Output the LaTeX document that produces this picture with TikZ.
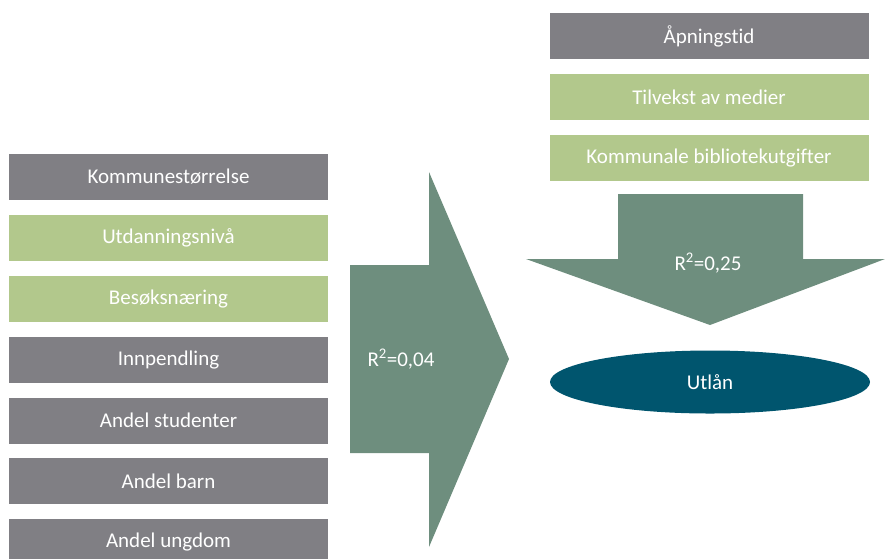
\documentclass[tikz,border=0pt]{standalone}
\usepackage{fontspec}
\setmainfont[Ligatures={NoCommon}]{Carlito}
\usetikzlibrary{shapes.geometric}
\definecolor{boxgray}{RGB}{128,127,132}
\definecolor{boxgreen}{RGB}{178,200,140}
\definecolor{arrowgreen}{RGB}{110,142,126}
\definecolor{ovalblue}{RGB}{0,85,110}
\tikzset{
  fact/.style={minimum width=319pt, minimum height=46pt, inner sep=0pt, text=white, font=\fontsize{21}{24}\selectfont},
  factgray/.style={fact, fill=boxgray},
  factgreen/.style={fact, fill=boxgreen},
  bigarrow/.style={fill=arrowgreen, draw=none},
  lbl/.style={text=white, font=\fontsize{21}{24}\selectfont, inner sep=0pt}
}
\begin{document}
\begin{tikzpicture}[x=1pt,y=-1pt]
\useasboundingbox (0,0) rectangle (885,558);
% left column
\node[factgray]  (k1) at (168.5,177) {Kommunestørrelse};
\node[factgreen] (k2) at (168.5,238) {Utdanningsnivå};
\node[factgreen] (k3) at (168.5,299) {Besøksnæring};
\node[factgray]  (k4) at (168.5,360) {Innpendling};
\node[factgray]  (k5) at (168.5,420.5) {Andel studenter};
\node[factgray]  (k6) at (168.5,481) {Andel barn};
\node[factgray]  (k7) at (168.5,542) {Andel ungdom};
% big right arrow
\path[bigarrow] (350,265) -- (429,265) -- (429,172) -- (509,359) -- (429,547) -- (429,453) -- (350,453) -- cycle;
\node[lbl] (r1) at (401,359) {R\textsuperscript{2}=0,04};
% right column
\node[factgray]  (m1) at (709,36) {Åpningstid};
\node[factgreen] (m2) at (709,97) {Tilvekst av medier};
\node[factgreen] (m3) at (709,158) {Kommunale bibliotekutgifter};
% down arrow
\path[bigarrow] (618,194) -- (803,194) -- (803,259) -- (885,259) -- (710,325) -- (526,259) -- (618,259) -- cycle;
\node[lbl] (r2) at (708,263) {R\textsuperscript{2}=0,25};
% outcome
\node[ellipse, fill=ovalblue, minimum width=320pt, minimum height=63pt, inner sep=0pt, text=white, font=\fontsize{21}{24}\selectfont] (u) at (710,382) {Utlån};
\end{tikzpicture}
\end{document}
